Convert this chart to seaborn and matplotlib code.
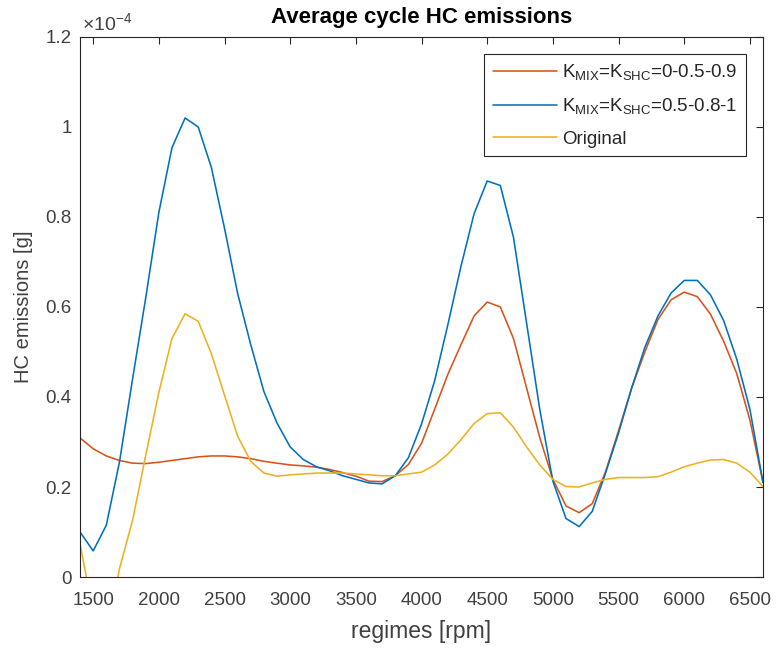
import numpy as np
import pandas as pd
import matplotlib
matplotlib.use("Agg")
import matplotlib.pyplot as plt
import seaborn as sns

rpm = list(range(1400, 6700, 100))

# values in units of 1e-4 g
hc_low = [0.309, 0.285, 0.269, 0.259, 0.253, 0.252, 0.255, 0.259, 0.263, 0.267,
          0.269, 0.269, 0.267, 0.263, 0.257, 0.253, 0.249, 0.247, 0.244, 0.239,
          0.232, 0.224, 0.213, 0.212, 0.225, 0.250, 0.297, 0.373, 0.450, 0.516,
          0.580, 0.611, 0.600, 0.530, 0.420, 0.310, 0.217, 0.158, 0.143, 0.163,
          0.233, 0.325, 0.420, 0.500, 0.572, 0.616, 0.633, 0.623, 0.584, 0.524,
          0.452, 0.349, 0.210]
hc_high = [0.100, 0.058, 0.115, 0.255, 0.440, 0.620, 0.810, 0.954, 1.020, 1.000,
           0.910, 0.775, 0.630, 0.516, 0.412, 0.342, 0.289, 0.261, 0.245, 0.236,
           0.225, 0.217, 0.209, 0.207, 0.225, 0.265, 0.340, 0.436, 0.560, 0.690,
           0.807, 0.880, 0.870, 0.755, 0.564, 0.373, 0.213, 0.130, 0.112, 0.146,
           0.230, 0.320, 0.420, 0.510, 0.580, 0.631, 0.659, 0.659, 0.627, 0.570,
           0.484, 0.373, 0.210]
hc_orig = [0.074, -0.080, -0.140, 0.018, 0.126, 0.270, 0.410, 0.530, 0.585, 0.568,
           0.496, 0.404, 0.313, 0.257, 0.231, 0.224, 0.227, 0.229, 0.231, 0.231,
           0.231, 0.229, 0.227, 0.225, 0.225, 0.229, 0.233, 0.249, 0.273, 0.305,
           0.341, 0.363, 0.365, 0.333, 0.289, 0.249, 0.217, 0.201, 0.200, 0.209,
           0.217, 0.221, 0.221, 0.221, 0.223, 0.233, 0.245, 0.253, 0.260, 0.261,
           0.253, 0.233, 0.201]

labels = [r"K$_{MIX}$=K$_{SHC}$=0-0.5-0.9",
          r"K$_{MIX}$=K$_{SHC}$=0.5-0.8-1",
          "Original"]
colors = ["#D95319", "#0072BD", "#EDB120"]
xticks = list(range(1500, 7000, 500))
yticks = [0, 0.2, 0.4, 0.6, 0.8, 1.0, 1.2]
ytick_labels = ["0", "0.2", "0.4", "0.6", "0.8", "1", "1.2"]

sns.set_theme(style="white")
plt.rcParams["font.family"] = ["Liberation Sans", "DejaVu Sans"]
plt.rcParams["mathtext.fontset"] = "custom"
plt.rcParams["mathtext.rm"] = "Liberation Sans"
plt.rcParams["mathtext.it"] = "Liberation Sans"
plt.rcParams["mathtext.default"] = "regular"

txt = "#404040"
fig = plt.figure(figsize=(7.77, 6.5), dpi=100)
ax = fig.add_axes([0.103, 0.1123, 0.879, 0.8308])

for vals, lab, col in zip([hc_low, hc_high, hc_orig], labels, colors):
    df = pd.DataFrame({"rpm": rpm, "hc": vals})
    sns.lineplot(data=df, x="rpm", y="hc", color=col, label=lab, ax=ax,
                 linewidth=1.15, sort=False, estimator=None)

ax.set_xlim(1400, 6600)
ax.set_ylim(0, 1.2)
ax.set_xticks(xticks)
ax.set_xticklabels([str(t) for t in xticks])
ax.set_yticks(yticks)
ax.set_yticklabels(ytick_labels)
ax.tick_params(direction="in", length=5, width=0.8, top=True, right=True,
               labelsize=13.5, colors="#262626", labelcolor=txt)
ax.tick_params(axis="x", pad=11)
ax.tick_params(axis="y", pad=6)
for s in ax.spines.values():
    s.set_color("#262626")
    s.set_linewidth(0.8)

ax.set_xlabel("regimes [rpm]", fontsize=16.5, color=txt, labelpad=8)
ax.set_ylabel("HC emissions [g]", fontsize=14.5, color=txt, labelpad=9)
ax.set_title("Average cycle HC emissions", fontsize=16, fontweight="bold",
             color="black", pad=10)
ax.text(0.003, 1.006, r"$\times$10$^{-4}$", transform=ax.transAxes, fontsize=14,
        color=txt, ha="left", va="bottom")

leg = ax.legend(loc="upper right", fontsize=13.5, frameon=True, fancybox=False,
                edgecolor="#262626", framealpha=1, borderpad=0.45,
                handlelength=3.4, handletextpad=0.3, labelspacing=0.75,
                borderaxespad=0.9)
leg.get_frame().set_linewidth(0.8)
for t in leg.get_texts():
    t.set_color("#262626")

fig.savefig("out.png", dpi=100)
